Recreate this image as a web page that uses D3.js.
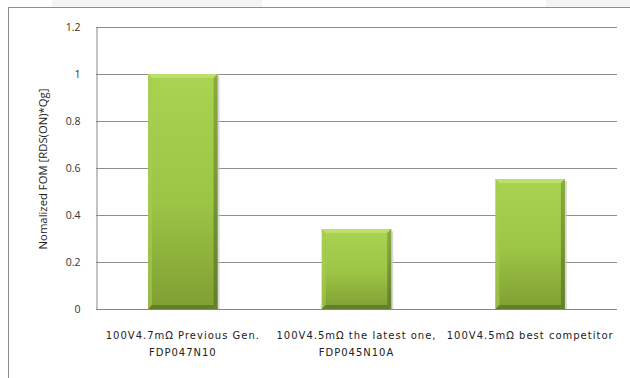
<!DOCTYPE html>
<html>
<head>
<meta charset="utf-8">
<script src="https://cdn.jsdelivr.net/npm/d3@7"></script>
<style>
  html, body { margin: 0; padding: 0; background: #fff; }
  svg { display: block; }
</style>
</head>
<body>
<svg id="chart" width="630" height="378"></svg>
<script>
// Figure-of-merit comparison of 100 V MOSFETs
const categories = [
  ["100V4.7mΩ Previous Gen.", "FDP047N10"],
  ["100V4.5mΩ the latest one,", "FDP045N10A"],
  ["100V4.5mΩ best competitor"]
];
const fomValues = [1.0, 0.34, 0.553];
const yTicks = [0, 0.2, 0.4, 0.6, 0.8, 1.0, 1.2];
const yTitle = "Nomalized FOM [RDS(ON)*Qg]";

const svg = d3.select("#chart");
const W = 630, H = 378;
const plot = { left: 96, right: 617, top: 27, bottom: 309 };

// faint strip above the chart frame
svg.append("rect").attr("x", 52).attr("y", 0).attr("width", 210).attr("height", 7).attr("fill", "#f4f4f4");
svg.append("rect").attr("x", 546).attr("y", 0).attr("width", 84).attr("height", 7).attr("fill", "#f4f4f4");

// outer chart frame (continues past the window edges)
svg.append("rect")
  .attr("x", 8.5).attr("y", 7.5)
  .attr("width", W + 20).attr("height", H + 20)
  .attr("fill", "#fff").attr("stroke", "#8e8e8e").attr("stroke-width", 1);

const x = d3.scaleBand()
  .domain(d3.range(categories.length))
  .range([plot.left, plot.right])
  .paddingInner(0.6)
  .paddingOuter(0.3);

const y = d3.scaleLinear()
  .domain([0, 1.2])
  .range([plot.bottom, plot.top]);

// horizontal gridlines
svg.append("g")
  .selectAll("line")
  .data(yTicks.slice(1))
  .join("line")
  .attr("x1", plot.left).attr("x2", plot.right)
  .attr("y1", d => Math.round(y(d)) + 0.5)
  .attr("y2", d => Math.round(y(d)) + 0.5)
  .attr("stroke", "#8f8f8f").attr("stroke-width", 1);

// y axis
const yAxis = d3.axisLeft(y)
  .tickValues(yTicks)
  .tickSize(0)
  .tickPadding(16)
  .tickFormat(d => String(+d.toFixed(1)));
const gy = svg.append("g")
  .attr("transform", `translate(${plot.left + 0.5},0.5)`)
  .call(yAxis);
gy.select(".domain").attr("stroke", "#868686");
gy.selectAll("text")
  .attr("font-family", "'Open Sans', 'Liberation Sans', sans-serif")
  .attr("font-size", 10.5)
  .attr("fill", "#333");

// x baseline
svg.append("line")
  .attr("x1", plot.left).attr("x2", plot.right)
  .attr("y1", plot.bottom + 0.5).attr("y2", plot.bottom + 0.5)
  .attr("stroke", "#868686");

// y axis title
svg.append("text")
  .attr("transform", `translate(42,169) rotate(-90)`)
  .attr("text-anchor", "middle")
  .attr("dominant-baseline", "central")
  .attr("font-family", "'Open Sans', 'Liberation Sans', sans-serif")
  .attr("font-size", 11.3)
  .attr("fill", "#222")
  .text(yTitle);

// bar gradients
const defs = svg.append("defs");
const g1 = defs.append("linearGradient").attr("id", "barFill")
  .attr("x1", 0).attr("y1", 0).attr("x2", 0).attr("y2", 1);
g1.append("stop").attr("offset", "0%").attr("stop-color", "#aad352");
g1.append("stop").attr("offset", "55%").attr("stop-color", "#9cc445");
g1.append("stop").attr("offset", "100%").attr("stop-color", "#7f9f33");
const g2 = defs.append("linearGradient").attr("id", "barSide")
  .attr("x1", 0).attr("y1", 0).attr("x2", 0).attr("y2", 1);
g2.append("stop").attr("offset", "0%").attr("stop-color", "#8aad3c");
g2.append("stop").attr("offset", "100%").attr("stop-color", "#62802a");

const bars = svg.append("g")
  .selectAll("g")
  .data(fomValues)
  .join("g");

bars.each(function(v, i) {
  const g = d3.select(this);
  const x0 = x(i), w = x.bandwidth();
  const y0 = y(v), y1 = y(0);
  const b = 4;
  // soft shadow on the right
  g.append("rect").attr("x", x0 + w).attr("y", y0 + 2).attr("width", 2).attr("height", y1 - y0 - 2)
    .attr("fill", "#c8c8c8").attr("opacity", 0.7);
  g.append("rect").attr("x", x0).attr("y", y0).attr("width", w).attr("height", y1 - y0)
    .attr("fill", "url(#barFill)");
  // top bevel
  g.append("polygon")
    .attr("points", `${x0},${y0} ${x0 + w},${y0} ${x0 + w - b},${y0 + b} ${x0 + b},${y0 + b}`)
    .attr("fill", "#bde06d");
  // left bevel
  g.append("polygon")
    .attr("points", `${x0},${y0} ${x0 + b},${y0 + b} ${x0 + b},${y1 - b} ${x0},${y1}`)
    .attr("fill", "#a6cd4e").attr("opacity", 0.6);
  // right bevel
  g.append("polygon")
    .attr("points", `${x0 + w},${y0} ${x0 + w},${y1} ${x0 + w - b},${y1 - b} ${x0 + w - b},${y0 + b}`)
    .attr("fill", "url(#barSide)");
  // bottom bevel
  g.append("polygon")
    .attr("points", `${x0},${y1} ${x0 + w},${y1} ${x0 + w - b},${y1 - b} ${x0 + b},${y1 - b}`)
    .attr("fill", "#62802a");
});

// category labels
const labels = svg.append("g")
  .selectAll("text")
  .data(categories)
  .join("text")
  .attr("x", (d, i) => x(i) + x.bandwidth() / 2)
  .attr("y", 339)
  .attr("text-anchor", "middle")
  .attr("font-family", "'DejaVu Sans', Verdana, sans-serif")
  .attr("font-size", 10)
  .attr("letter-spacing", 1)
  .attr("fill", "#222");
labels.selectAll("tspan")
  .data(d => d)
  .join("tspan")
  .attr("x", function() { return d3.select(this.parentNode).attr("x"); })
  .attr("dy", (d, j) => j === 0 ? 0 : 17)
  .text(d => d);
</script>
</body>
</html>
